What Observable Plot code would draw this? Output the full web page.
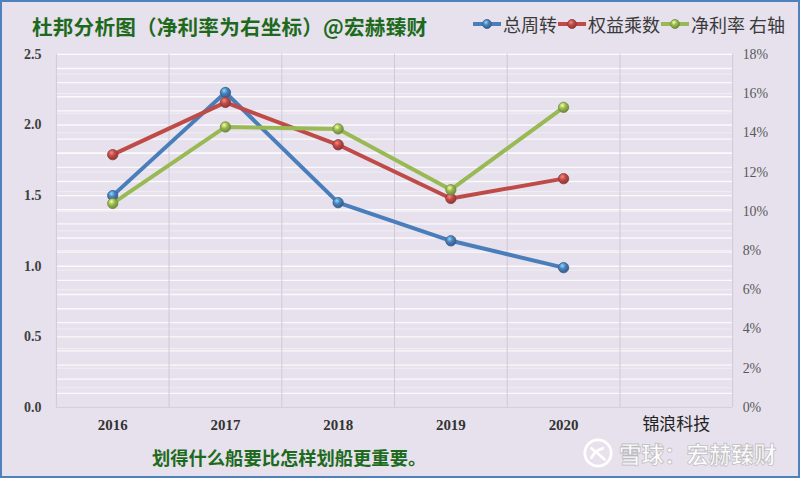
<!DOCTYPE html>
<html>
<head>
<meta charset="utf-8">
<script src="https://cdn.jsdelivr.net/npm/d3@7"></script>
<script src="https://cdn.jsdelivr.net/npm/@observablehq/plot@0.6"></script>
<style>
  html, body { margin: 0; padding: 0; background: #e6e1ec; }
  #wrap { position: relative; width: 800px; height: 478px; background: #e6e1ec; box-sizing: border-box; border: 2px solid #4f81bd; overflow: hidden; }
  #chart { position: absolute; left: -2px; top: -2px; }
  .title { position: absolute; left: 30px; top: 9px; font-family: "Noto Sans CJK SC", sans-serif; font-weight: 700; font-size: 20.6px; color: #1d6a1d; letter-spacing: 0.2px; white-space: nowrap; }
  .legend { position: absolute; top: 9px; left: 470px; font-family: "Noto Sans CJK SC", sans-serif; font-size: 18px; color: #3a3a3a; white-space: nowrap; display: flex; align-items: center; }
  .legend span.item { display: inline-flex; align-items: center; }
  .legend svg { margin-right: 1px; }
  .caption { position: absolute; left: 150px; top: 442px; font-family: "Noto Sans CJK SC", sans-serif; font-weight: 700; font-size: 18.3px; color: #1d6a1d; white-space: nowrap; }
  .wm { position: absolute; left: 580px; top: 435px; display: flex; align-items: center; font-family: "Noto Sans CJK SC", sans-serif; font-weight: 700; font-size: 22.5px; color: rgba(255,255,255,0.92); -webkit-text-stroke: 0.8px rgba(150,150,150,0.55); white-space: nowrap; }
</style>
</head>
<body>
<div id="wrap">
  <div id="chart"></div>
  <div class="title">杜邦分析图（净利率为右坐标）@宏赫臻财</div>
  <div class="legend" id="legend"></div>
  <div class="caption">划得什么船要比怎样划船更重要。</div>
  <div class="wm">
    <svg width="32" height="32" viewBox="0 0 34 34" style="margin-right:5px">
      <circle cx="17" cy="17" r="14" fill="none" stroke="rgba(255,255,255,0.95)" stroke-width="3"/>
      <path d="M10 12 Q17 17 24 24 M10 22 Q14 14 22 12" fill="none" stroke="rgba(255,255,255,0.95)" stroke-width="3" stroke-linecap="round"/>
    </svg>
    <span>雪球：宏赫臻财</span>
  </div>
</div>
<script>
// ---- data ----
const categories = ["2016", "2017", "2018", "2019", "2020", "锦浪科技"];
const years = ["2016", "2017", "2018", "2019", "2020"];
const totalTurnover = [1.50, 2.23, 1.45, 1.18, 0.99];        // 总周转 (left axis)
const equityMultiplier = [1.79, 2.16, 1.86, 1.48, 1.62];     // 权益乘数 (left axis)
const netMargin = [10.4, 14.3, 14.2, 11.1, 15.3];            // 净利率 % (right axis)
const leftTicks = [0, 0.5, 1.0, 1.5, 2.0, 2.5];
const rightTicks = [0, 2, 4, 6, 8, 10, 12, 14, 16, 18];
const seriesNames = ["总周转", "权益乘数", "净利率 右轴"];
const seriesColors = ["#4a7ebb", "#be4b48", "#98b954"];

// right axis (0–18%) mapped onto left axis (0–2.5)
const leftMax = 2.5, rightMax = 18;
const r2l = v => v / rightMax * leftMax;

const idx = d3.range(years.length);
const rows = [];
idx.forEach(i => {
  rows.push({s: 0, i, y: totalTurnover[i]});
  rows.push({s: 1, i, y: equityMultiplier[i]});
  rows.push({s: 2, i, y: r2l(netMargin[i])});
});
const minorGrid = d3.range(1, 26).map(k => k / 10);
const rightGrid = d3.range(1, 19).map(k => r2l(k));
const gradIds = ["gBlue", "gRed", "gGreen"];

const chart = Plot.plot({
  width: 800,
  height: 478,
  marginLeft: 56,
  marginRight: 66,
  marginTop: 54,
  marginBottom: 70,
  style: {background: "transparent", overflow: "visible"},
  x: {type: "linear", domain: [-0.5, categories.length - 0.5], axis: null},
  y: {domain: [0, leftMax], axis: null},
  marks: [
    Plot.ruleY(rightGrid, {stroke: "#ffffff", strokeOpacity: 0.45, strokeWidth: 1}),
    Plot.ruleY(minorGrid, {stroke: "#ffffff", strokeOpacity: 0.8, strokeWidth: 1.3}),
    Plot.ruleX(d3.range(categories.length + 1).map(k => k - 0.5), {y1: 0, y2: leftMax, stroke: "#cfcad6", strokeWidth: 1}),
    Plot.ruleY([0], {stroke: "#d4cfda"}),
    Plot.axisY(leftTicks, {
      anchor: "left", tickSize: 0, tickPadding: 15, label: null,
      tickFormat: d => d.toFixed(1),
      fontFamily: "'Liberation Serif', serif", fontWeight: "bold", fontSize: 14, fill: "#404040"
    }),
    Plot.axisY(rightTicks.map(r2l), {
      anchor: "right", tickSize: 0, tickPadding: 10, label: null,
      tickFormat: d => Math.round(d / leftMax * rightMax) + "%",
      fontFamily: "'Liberation Serif', serif", fontSize: 14, fill: "#595959"
    }),
    Plot.axisX(idx, {
      anchor: "bottom", tickSize: 0, tickPadding: 12, label: null,
      tickFormat: i => years[i],
      fontFamily: "'Liberation Serif', serif", fontWeight: "bold", fontSize: 15, fill: "#333333"
    }),
    Plot.axisX([categories.length - 1], {
      anchor: "bottom", tickSize: 0, tickPadding: 11, label: null,
      tickFormat: i => categories[i],
      fontFamily: "'Noto Sans CJK SC', sans-serif", fontSize: 17, fill: "#222222"
    }),
    ...[0, 1, 2].map(s => Plot.line(rows.filter(d => d.s === s), {
      x: "i", y: "y", stroke: seriesColors[s], strokeWidth: 4, strokeLinejoin: "round", strokeLinecap: "round"
    })),
    ...[0, 1, 2].map(s => Plot.dot(rows.filter(d => d.s === s), {
      x: "i", y: "y", r: 5.2, fill: `url(#${gradIds[s]})`, stroke: d3.color(seriesColors[s]).darker(0.8).formatHex(), strokeWidth: 0.8
    }))
  ]
});

// sphere-like marker gradients
const svg = d3.select(chart);
const defs = svg.insert("defs", ":first-child");
seriesColors.forEach((c, k) => {
  const g = defs.append("radialGradient").attr("id", gradIds[k]).attr("cx", "38%").attr("cy", "32%").attr("r", "70%");
  g.append("stop").attr("offset", "0%").attr("stop-color", d3.color(c).brighter(1.6).formatHex());
  g.append("stop").attr("offset", "45%").attr("stop-color", c);
  g.append("stop").attr("offset", "100%").attr("stop-color", d3.color(c).darker(0.9).formatHex());
});
document.getElementById("chart").appendChild(chart);

// legend
const legend = document.getElementById("legend");
seriesNames.forEach((name, k) => {
  const item = document.createElement("span");
  item.className = "item";
  item.innerHTML = `<svg width="30" height="14"><line x1="1" y1="7" x2="29" y2="7" stroke="${seriesColors[k]}" stroke-width="4"/><circle cx="15" cy="7" r="4.5" fill="url(#${gradIds[k]})" stroke="${d3.color(seriesColors[k]).darker(0.8).formatHex()}" stroke-width="0.8"/></svg><span>${name}</span>`;
  legend.appendChild(item);
});
</script>
</body>
</html>
